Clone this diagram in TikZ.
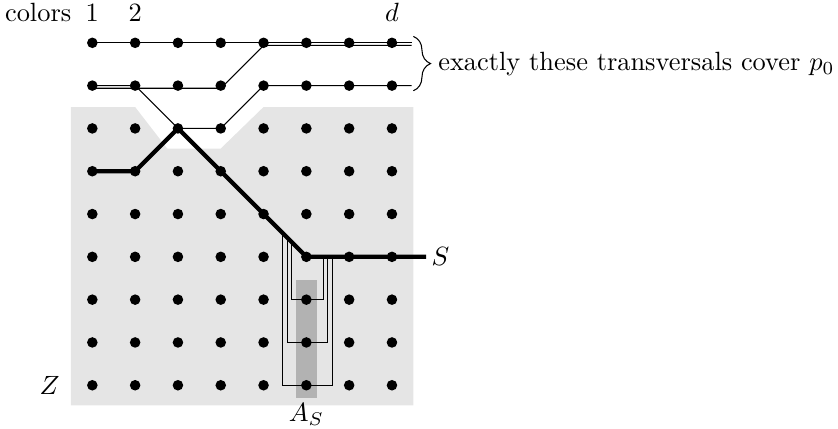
\documentclass[tikz,border=0pt]{standalone}
\usepackage{tikz}
\usetikzlibrary{positioning, decorations.pathreplacing}

\begin{document}
\begin{tikzpicture}[x=0.57cm, y=0.57cm,
    dot/.style={circle, fill=black, inner sep=0pt, minimum size=4pt},
    trans/.style={line width=0.4pt},
    spath/.style={line width=1.6pt},
    lbl/.style={anchor=base, inner sep=0pt}]

  \useasboundingbox (-1.157,-9.0) rectangle (18.42,1.0);

  % Shaded region Z (with the notch at the top)
  \fill[black!10] (0.5,-1.5) -- (2,-1.5) -- (2.75,-2.47) -- (4,-2.47) -- (5,-1.5)
    -- (8.5,-1.5) -- (8.5,-8.47) -- (0.5,-8.47) -- cycle;

  % Column A_S
  \fill[black!30] (5.75,-5.55) rectangle (6.25,-8.3);
  \coordinate (AS) at (6,-8.3);
  \node[below=-1.5pt of AS] (ASlbl) {$A_S$};

  % Points: rows 0,1 above, rows 2..8 form the grid
  \foreach \c in {1,...,8}
    \foreach \r in {0,...,8}
      \node[dot] (p-\c-\r) at (\c,-\r) {};

  % Column labels
  \node[anchor=base east, inner sep=0pt] (colorslbl) at (0.52,0.5) {colors};
  \node[lbl] (c1) at (1,0.5) {1};
  \node[lbl] (c2) at (2,0.5) {2};
  \node[lbl] (cd) at (8,0.5) {$d$};

  \node (Z) at (0,-8) {$Z$};

  % Transversals covering p_0
  \coordinate (e0) at (8.46,0);
  \coordinate (e1) at (8.46,-1);
  \draw[trans] (p-1-0.center) -- (p-8-0.center) -- (e0);
  \draw[trans] ([yshift=-1pt]p-1-1.center) -- ([yshift=-1pt]p-4-1.center)
    -- ([yshift=-1pt]p-5-0.center) -- ([yshift=-1pt]p-8-0.center) -- ([yshift=-1pt]e0);
  \draw[trans] (p-1-1.center) -- (p-2-1.center) -- (p-3-2.center) -- (p-4-2.center)
    -- (p-5-1.center) -- (p-8-1.center) -- (e1);

  % Brace and remark
  \coordinate (bt) at (8.5,0.15);
  \coordinate (bb) at (8.5,-1.12);
  \draw[decorate, decoration={brace, amplitude=6.5pt}] (bt) -- (bb);
  \node[anchor=west, inner sep=0pt] (cover) at (9.07,-0.5)
    {exactly these transversals cover $p_0$};

  % Detours of S into column A_S
  \foreach \r/\l/\rr in {6/5.65/6.4, 7/5.55/6.5, 8/5.45/6.6} {
    \pgfmathsetmacro{\ytop}{1-\l}
    \coordinate (ul-\r) at (\l,\ytop);
    \coordinate (ur-\r) at (\rr,-5);
    \draw[trans] (ul-\r) |- (p-6-\r.center) -| (ur-\r);
  }

  % The set S
  \coordinate (Send) at (8.8,-5);
  \draw[spath] (p-1-3.center) -- (p-2-3.center) -- (p-3-2.center) -- (p-4-3.center)
    -- (p-5-4.center) -- (p-6-5.center) -- (Send);
  \node[right=-1.5pt of Send] (S) {$S$};
\end{tikzpicture}
\end{document}
